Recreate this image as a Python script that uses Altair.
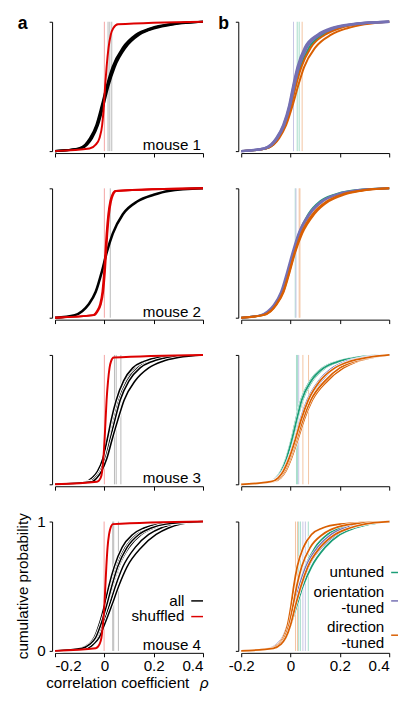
import altair as alt
import pandas as pd

P = [0, 0.02, 0.05, 0.1, 0.2, 0.35, 0.5, 0.65, 0.8, 0.9, 0.95, 0.98, 1]

# ---------------- column a : all pairs (black) vs shuffled (red) ----------------
m1_all = [
    [-0.2, -0.100, -0.075, -0.055, -0.030, -0.008, 0.012, 0.037, 0.080, 0.135, 0.195, 0.27, 0.4],
    [-0.2, -0.095, -0.070, -0.050, -0.026, -0.004, 0.016, 0.042, 0.086, 0.142, 0.205, 0.28, 0.4],
    [-0.2, -0.105, -0.078, -0.058, -0.033, -0.011, 0.009, 0.033, 0.075, 0.128, 0.188, 0.26, 0.4],
]
m1_shuf = [
    [-0.2, -0.060, -0.035, -0.020, -0.009, -0.002, 0.003, 0.009, 0.017, 0.026, 0.036, 0.055, 0.4],
]
m2_all = [
    [-0.2, -0.120, -0.090, -0.065, -0.035, -0.011, 0.009, 0.034, 0.075, 0.135, 0.200, 0.26, 0.4],
]
m2_shuf = [
    [-0.2, -0.045, -0.030, -0.018, -0.008, -0.001, 0.004, 0.009, 0.016, 0.024, 0.032, 0.045, 0.4],
    [-0.2, -0.042, -0.027, -0.015, -0.005, 0.002, 0.007, 0.012, 0.019, 0.027, 0.035, 0.048, 0.4],
]
m3_all = [
    [-0.2, -0.070, -0.045, -0.025, -0.003, 0.016, 0.033, 0.053, 0.085, 0.125, 0.170, 0.23, 0.4],
    [-0.2, -0.065, -0.040, -0.020, 0.001, 0.020, 0.038, 0.058, 0.092, 0.135, 0.180, 0.245, 0.4],
    [-0.2, -0.075, -0.050, -0.028, -0.006, 0.012, 0.028, 0.048, 0.078, 0.115, 0.160, 0.22, 0.4],
    [-0.2, -0.060, -0.037, -0.017, 0.004, 0.024, 0.043, 0.064, 0.100, 0.145, 0.195, 0.26, 0.4],
    [-0.2, -0.050, -0.030, -0.012, 0.010, 0.032, 0.055, 0.080, 0.125, 0.180, 0.235, 0.30, 0.4],
]
m3_shuf = [
    [-0.2, -0.030, -0.015, -0.009, -0.004, 0.001, 0.005, 0.009, 0.015, 0.021, 0.027, 0.038, 0.4],
]
m4_all = [
    [-0.2, -0.090, -0.060, -0.038, -0.018, 0.005, 0.025, 0.048, 0.085, 0.130, 0.180, 0.24, 0.4],
    [-0.2, -0.085, -0.055, -0.033, -0.013, 0.012, 0.033, 0.058, 0.100, 0.150, 0.200, 0.26, 0.4],
    [-0.2, -0.095, -0.065, -0.042, -0.022, 0.000, 0.018, 0.040, 0.072, 0.115, 0.160, 0.22, 0.4],
    [-0.2, -0.080, -0.050, -0.028, -0.008, 0.020, 0.045, 0.075, 0.125, 0.180, 0.230, 0.29, 0.4],
    [-0.2, -0.070, -0.045, -0.022, 0.000, 0.030, 0.058, 0.092, 0.150, 0.210, 0.260, 0.31, 0.4],
    [-0.2, -0.090, -0.060, -0.036, -0.015, 0.009, 0.030, 0.054, 0.092, 0.140, 0.190, 0.25, 0.4],
]
m4_shuf = [
    [-0.2, -0.035, -0.020, -0.012, -0.006, 0.000, 0.004, 0.008, 0.013, 0.019, 0.025, 0.035, 0.4],
]

# ---------------- column b : untuned / orientation-tuned / direction-tuned ----------------
m1_unt = [
    [-0.2, -0.100, -0.070, -0.050, -0.022, 0.001, 0.019, 0.040, 0.075, 0.130, 0.190, 0.26, 0.4],
]
m1_ori = [
    [-0.2, -0.110, -0.080, -0.058, -0.030, -0.006, 0.010, 0.028, 0.058, 0.110, 0.165, 0.24, 0.4],
    [-0.2, -0.105, -0.075, -0.053, -0.026, -0.002, 0.015, 0.034, 0.066, 0.120, 0.178, 0.255, 0.4],
    [-0.2, -0.108, -0.078, -0.056, -0.028, -0.004, 0.012, 0.031, 0.062, 0.115, 0.172, 0.248, 0.4],
]
m1_dir = [
    [-0.2, -0.100, -0.068, -0.046, -0.018, 0.008, 0.030, 0.055, 0.100, 0.165, 0.230, 0.30, 0.4],
    [-0.2, -0.100, -0.070, -0.050, -0.022, 0.002, 0.021, 0.044, 0.082, 0.140, 0.200, 0.27, 0.4],
]
m2_unt = [
    [-0.2, -0.115, -0.085, -0.060, -0.032, -0.009, 0.011, 0.034, 0.072, 0.120, 0.175, 0.24, 0.4],
]
m2_ori = [
    [-0.2, -0.122, -0.093, -0.068, -0.039, -0.015, 0.007, 0.032, 0.074, 0.125, 0.180, 0.245, 0.4],
    [-0.2, -0.118, -0.088, -0.063, -0.034, -0.011, 0.011, 0.036, 0.079, 0.132, 0.188, 0.255, 0.4],
]
m2_dir = [
    [-0.2, -0.110, -0.080, -0.057, -0.028, -0.004, 0.018, 0.047, 0.096, 0.155, 0.215, 0.285, 0.4],
    [-0.2, -0.112, -0.082, -0.059, -0.030, -0.006, 0.016, 0.043, 0.089, 0.147, 0.205, 0.275, 0.4],
]
m3_unt = [
    [-0.2, -0.090, -0.060, -0.040, -0.018, 0.004, 0.022, 0.042, 0.080, 0.130, 0.190, 0.26, 0.4],
    [-0.2, -0.085, -0.056, -0.036, -0.014, 0.008, 0.027, 0.048, 0.088, 0.140, 0.200, 0.27, 0.4],
    [-0.2, -0.088, -0.058, -0.038, -0.016, 0.006, 0.025, 0.045, 0.084, 0.135, 0.195, 0.265, 0.4],
]
m3_ori = [
    [-0.2, -0.085, -0.055, -0.033, -0.008, 0.018, 0.040, 0.068, 0.115, 0.170, 0.225, 0.29, 0.4],
    [-0.2, -0.080, -0.050, -0.030, -0.004, 0.022, 0.046, 0.075, 0.125, 0.180, 0.235, 0.30, 0.4],
]
m3_dir = [
    [-0.2, -0.070, -0.040, -0.020, 0.003, 0.030, 0.055, 0.088, 0.150, 0.215, 0.270, 0.33, 0.4],
    [-0.2, -0.075, -0.045, -0.025, -0.002, 0.025, 0.050, 0.082, 0.140, 0.200, 0.260, 0.32, 0.4],
    [-0.2, -0.080, -0.050, -0.030, -0.006, 0.020, 0.043, 0.072, 0.120, 0.180, 0.240, 0.31, 0.4],
]
m4_unt = [
    [-0.2, -0.075, -0.045, -0.025, -0.005, 0.015, 0.035, 0.060, 0.100, 0.150, 0.200, 0.27, 0.4],
    [-0.2, -0.070, -0.040, -0.020, 0.000, 0.025, 0.050, 0.085, 0.140, 0.200, 0.260, 0.32, 0.4],
]
m4_ori = [
    [-0.2, -0.085, -0.055, -0.033, -0.012, 0.012, 0.035, 0.062, 0.110, 0.165, 0.220, 0.28, 0.4],
    [-0.2, -0.080, -0.050, -0.028, -0.007, 0.018, 0.043, 0.072, 0.125, 0.185, 0.240, 0.30, 0.4],
]
m4_dir = [
    [-0.2, -0.080, -0.050, -0.030, -0.012, 0.002, 0.013, 0.027, 0.052, 0.085, 0.130, 0.20, 0.4],
    [-0.2, -0.075, -0.045, -0.025, -0.006, 0.010, 0.025, 0.045, 0.080, 0.130, 0.180, 0.25, 0.4],
    [-0.2, -0.070, -0.040, -0.020, 0.000, 0.020, 0.042, 0.070, 0.120, 0.180, 0.240, 0.30, 0.4],
]

# medians (vertical lines)
med_a = {
    1: {"all": [0.015, 0.022, 0.030], "shuffled": [0.0]},
    2: {"all": [0.024], "shuffled": [0.0]},
    3: {"all": [0.041, 0.048, 0.067], "shuffled": [0.0]},
    4: {"all": [0.034, 0.038, 0.057], "shuffled": [-0.001]},
}
med_b = {
    1: {"untuned": [0.027, 0.035], "orientation": [0.012], "direction": [0.047]},
    2: {"untuned": [0.019], "orientation": [0.022], "direction": [0.035, 0.038]},
    3: {"untuned": [0.024, 0.028], "orientation": [0.033], "direction": [0.050, 0.073]},
    4: {"untuned": [0.033, 0.040, 0.072], "orientation": [0.050, 0.060], "direction": [0.020, 0.028]},
}

curves_a = {
    1: {"all": m1_all, "shuffled": m1_shuf},
    2: {"all": m2_all, "shuffled": m2_shuf},
    3: {"all": m3_all, "shuffled": m3_shuf},
    4: {"all": m4_all, "shuffled": m4_shuf},
}
curves_b = {
    1: {"untuned": m1_unt, "direction": m1_dir, "orientation": m1_ori},
    2: {"untuned": m2_unt, "orientation": m2_ori, "direction": m2_dir},
    3: {"untuned": m3_unt, "orientation": m3_ori, "direction": m3_dir},
    4: {"untuned": m4_unt, "orientation": m4_ori, "direction": m4_dir},
}

x_ticks = [-0.2, 0, 0.2, 0.4]
y_ticks = [0, 1]

# ---------------- styling ----------------
W, H = 151, 132
FONT = "Liberation Sans"
FS = 15.5
COL = {"all": "#000000", "shuffled": "#dd0000", "untuned": "#1b9e77",
       "orientation": "#7570b3", "direction": "#d95f02"}
MEDCOL = {"all": "#b8b8b8", "shuffled": "#f3a3a3", "untuned": "#a6dccb",
          "orientation": "#c7c5e4", "direction": "#f3c4a2"}
SW_A = {1: 2.2, 2: 2.6, 3: 1.6, 4: 1.5}


def style(col, mouse, g):
    """stroke width and white halo width of one group of curves"""
    if col == "a":
        if g == "shuffled":
            return 2.0, 0.0
        return SW_A[mouse], (0.0 if mouse <= 2 else 0.9)
    if mouse == 1:
        return (2.4 if g == "orientation" else 2.0), 0.0
    if mouse == 2:
        return 2.0, 0.0
    return 1.8, 0.5


xscale = alt.Scale(domain=[-0.2, 0.4], nice=False, zero=False)
yscale = alt.Scale(domain=[0, 1], nice=False, zero=False)
LABEL_EXPR = "datum.value == 0 ? '0' : (datum.value < 0 ? '-' : '') + format(abs(datum.value), '.1f')"


def xaxis(labels, col):
    kw = dict(values=x_ticks, labels=labels, title=None, grid=False, offset=2,
              tickSize=4, domainColor="black", tickColor="black",
              labelFont=FONT, labelFontSize=FS, labelColor="black", labelPadding=2,
              labelExpr=LABEL_EXPR)
    if col == "b":
        kw["labelAlign"] = {"condition": {"test": "datum.value > 0.3", "value": "right"},
                            "value": "center"}
    return alt.Axis(**kw)


def yaxis(labels):
    return alt.Axis(values=y_ticks, labels=labels, title=None, grid=False, offset=3,
                    tickSize=3, domainColor="black", tickColor="black", format="d",
                    labelFont=FONT, labelFontSize=FS, labelColor="black", labelPadding=4)


ONE = pd.DataFrame({"k": [0]})


def txt(s, x, y, align="left", baseline="alphabetic", size=FS, weight="normal",
        fstyle="normal", angle=0, color="black"):
    return alt.Chart(ONE).mark_text(text=s, align=align, baseline=baseline, font=FONT,
                                    fontSize=size, fontWeight=weight, fontStyle=fstyle,
                                    angle=angle, color=color).encode(
        x=alt.value(x), y=alt.value(y))


def seg(x1, x2, y, color):
    return alt.Chart(ONE).mark_rule(color=color, strokeWidth=1.5).encode(
        x=alt.value(x1), x2=alt.value(x2), y=alt.value(y))


def panel(col, mouse):
    bottom = mouse == 4
    xa = xaxis(bottom, col)
    ya = yaxis(bottom and col == "a")
    curves = curves_a[mouse] if col == "a" else curves_b[mouse]
    meds = med_a[mouse] if col == "a" else med_b[mouse]
    layers = []
    for g, vals in meds.items():
        layers.append(alt.Chart(pd.DataFrame({"x": vals})).mark_rule(
            color=MEDCOL[g], strokeWidth=1).encode(x=alt.X("x:Q", scale=xscale, axis=xa)))
    for g, lists in curves.items():
        sw, halo = style(col, mouse, g)
        for xs in lists:
            df = pd.DataFrame({"x": xs, "p": P})
            enc = dict(x=alt.X("x:Q", scale=xscale, axis=xa),
                       y=alt.Y("p:Q", scale=yscale, axis=ya), order="p:Q")
            if halo > 0:
                layers.append(alt.Chart(df).mark_line(
                    interpolate="monotone", color="white", strokeWidth=sw + 2 * halo).encode(**enc))
            layers.append(alt.Chart(df).mark_line(
                interpolate="monotone", color=COL[g], strokeWidth=sw).encode(**enc))
    if col == "a":
        layers.append(txt(f"mouse {mouse}", W - 2, H - 1, align="right"))
    if mouse == 1:
        layers.append(txt(col, -33 if col == "a" else -18, 7, align="center",
                          size=18, weight="bold"))
    if bottom and col == "a":
        layers += [
            txt("all", 132, 81, baseline="middle", align="right"),
            seg(139, 151, 81, COL["all"]),
            txt("shuffled", 132, 97, baseline="middle", align="right"),
            seg(139, 151, 97, COL["shuffled"]),
            txt("cumulative probability", -33, H / 2, align="center", baseline="middle", angle=270),
            txt("correlation coefficient", -9, 165, baseline="middle"),
            txt("ρ", 148, 165, baseline="middle", fstyle="italic"),
        ]
    if bottom and col == "b":
        layers += [
            txt("untuned", 146, 52, baseline="middle", align="right"),
            seg(153, 160, 52, COL["untuned"]),
            txt("orientation", 146, 72, baseline="middle", align="right"),
            txt("-tuned", 146, 88, baseline="middle", align="right"),
            seg(153, 160, 81, COL["orientation"]),
            txt("direction", 146, 108, baseline="middle", align="right"),
            txt("-tuned", 146, 124, baseline="middle", align="right"),
            seg(153, 160, 116, COL["direction"]),
        ]
    return alt.layer(*layers).properties(width=W, height=H)


cells = []
for m in [1, 2, 3, 4]:
    cells.append(panel("a", m))
    cells.append(panel("b", m))

chart = alt.concat(*cells, columns=2, spacing={"row": 38, "column": 39}, bounds="flush").properties(
    padding={"left": 7, "top": 0, "right": 0, "bottom": -3}
).configure_view(stroke="transparent", strokeWidth=0)

chart.save("out.html", embed_options={"renderer": "svg", "actions": False})
